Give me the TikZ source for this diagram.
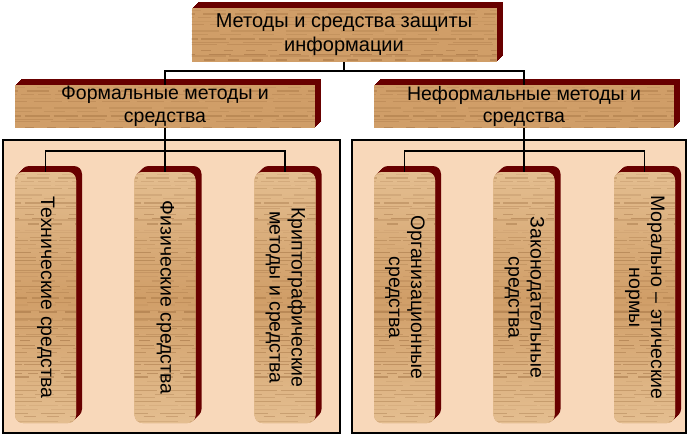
\documentclass[tikz,border=0pt]{standalone}
\usepackage{fontspec}
\setmainfont{Liberation Sans}
\usepackage{graphicx}
\usetikzlibrary{calc}

\definecolor{wood}{RGB}{208,158,104}
\definecolor{woodlight}{RGB}{228,190,144}
\definecolor{grain}{RGB}{130,82,38}
\definecolor{deepred}{RGB}{104,0,0}
\definecolor{peach}{RGB}{248,216,186}

% wood grain inside a plank
\newcommand{\grains}{%
  \pgfmathsetseed{7}%
  \foreach \i in {0,...,64}{%
    \pgfmathsetmacro\gy{\i*4+3*rnd}%
    \pgfmathsetmacro\gx{20*rnd}%
    \pgfmathsetmacro\go{0.06+0.3*rnd}%
    \pgfmathsetmacro\gw{0.4+1.2*rnd}%
    \pgfmathsetmacro\gon{8+40*rnd}%
    \pgfmathsetmacro\goff{2+12*rnd}%
    \draw[grain, opacity=\go, line width=\gw pt, dash pattern=on \gon pt off \goff pt]
      ($(path picture bounding box.north west)+(-\gx pt,-\gy pt)$) --
      ($(path picture bounding box.north east)+(0,-\gy pt)$);
  }}

\tikzset{
  extrude/.style={preaction={fill=deepred, transform canvas={shift={(#1,#1)}}}},
  plank/.style={extrude=6pt, extrude=5pt, extrude=4pt, extrude=3pt, extrude=2pt, extrude=1pt,
    fill=wood, inner sep=0pt, align=center, path picture={\grains}},
  wide/.style={plank, minimum width=300pt, minimum height=43pt,
    font=\fontsize{19.5}{22.5}\selectfont},
  tall/.style={plank, rounded corners=8pt, minimum width=61pt, minimum height=251pt,
    top color=woodlight, bottom color=woodlight, middle color=wood,
    font=\fontsize{19.5}{22}\selectfont},
  panel/.style={draw=black, line width=1.2pt, fill=peach, minimum height=293pt},
  link/.style={draw=black, line width=1.2pt}
}

\newcommand{\vtext}[1]{\rotatebox{-90}{\begin{tabular}{@{}c@{}}#1\end{tabular}}}

\begin{document}
\begin{tikzpicture}[x=1pt, y=-1pt]
	\useasboundingbox (0,0) rectangle (689,437);
	% containers
	\node(panelL)[panel, minimum width=337pt] at (171.5, 286.5) {};
	\node(panelR)[panel, minimum width=334pt] at (519, 286.5) {};
	% upper levels
	\node(top)[plank, minimum width=305pt, minimum height=54pt,
		font=\fontsize{20}{24}\selectfont] at (344, 35) {Методы и средства защиты\\информации};
	\node(formal)[wide] at (165, 106.5) {Формальные методы и\\средства};
	\node(informal)[wide] at (524, 106.5) {Неформальные методы и\\средства};
	% lower level
	\node(t1)[tall] at (45.5, 297.5) {\vtext{Технические средства}};
	\node(t2)[tall] at (165, 297.5) {\vtext{Физические средства}};
	\node(t3)[tall] at (285, 297.5) {\vtext{Криптографические\\методы и средства}};
	\node(n1)[tall] at (404.5, 297.5) {\vtext{Организационные\\средства}};
	\node(n2)[tall] at (524, 297.5) {\vtext{Законодательные\\средства}};
	\node(n3)[tall] at (644.5, 297.5) {\vtext{Морально – этические\\нормы}};
	% connectors
	\coordinate(bus) at (344, 71);
	\coordinate(busL) at (165, 151);
	\coordinate(busR) at (524, 151);
	\draw[link] (top.south) -- (bus);
	\draw[link] (formal.north) |- (bus) -| (informal.north);
	\draw[link] (formal.south) -- (t2.north);
	\draw[link] (t1.north) |- (busL) -| (t3.north);
	\draw[link] (informal.south) -- (n2.north);
	\draw[link] (n1.north) |- (busR) -| (n3.north);
\end{tikzpicture}
\end{document}
